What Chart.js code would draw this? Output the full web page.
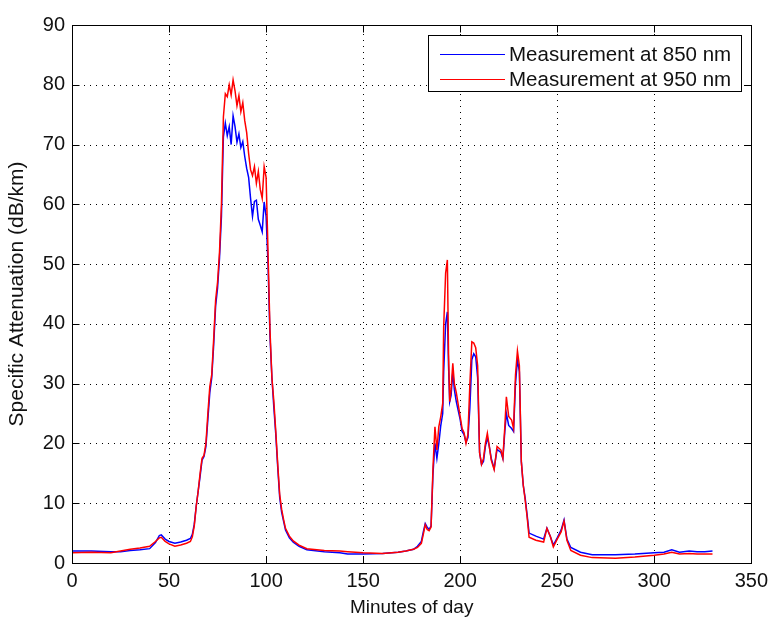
<!DOCTYPE html>
<html>
<head>
<meta charset="utf-8">
<script src="https://cdn.jsdelivr.net/npm/chart.js@4/dist/chart.umd.min.js"></script>
<style>
  html, body { margin: 0; padding: 0; background: #fff; }
  canvas { display: block; }
</style>
</head>
<body>
<canvas id="chart" width="774" height="617"></canvas>
<script>
// minutes of day and attenuation readings (dB/km)
const minutes = [0, 10, 20, 25, 30, 35, 40, 43, 45, 46, 48, 50, 53, 56, 59, 61,
  62, 63, 64, 65, 66, 67, 68, 69, 70, 71, 72, 73, 74, 75, 76, 77, 78, 79, 80,
  81, 82, 83, 84, 85, 86, 87, 88, 89, 90, 91, 92, 93, 94, 95, 96, 97, 98, 99, 100,
  101, 102, 103, 104, 105, 106, 107, 108, 109, 110, 112, 114, 117, 121, 130, 138,
  142, 150, 160, 168, 172, 176, 178, 180, 181, 182, 183, 184, 185,
  186, 187, 188, 189, 190, 191, 191.5, 192.5, 193.4, 194, 194.6, 195.3, 196.2, 197,
  198, 199, 200, 201, 202, 203, 204, 205, 206, 207, 208, 209, 210, 211, 212, 213,
  214, 215, 216, 217.5, 219, 221, 222, 223, 223.8, 225, 226.5, 227.5, 228.5, 229.5,
  230.5, 231.5, 232.5, 233.5, 234.5, 235.5, 239, 243, 244.7, 246.5, 248, 250, 252,
  253.5, 255, 257, 262, 268, 280, 290, 300, 305, 309, 313, 318, 322, 326, 330];

const att850 = [2.0, 2.0, 1.9, 1.9, 2.1, 2.2, 2.4, 3.4, 4.6, 4.7, 4.0, 3.6, 3.3, 3.5, 3.8, 4.1,
  4.8, 6.5, 9.5, 12, 14.5, 17.2, 17.8, 19.5, 24, 28.5, 31, 36.5, 43, 46, 51, 58, 71.3, 73.6, 71.5,
  73, 70, 74.8, 73, 70.4, 71.8, 69.5, 70.5, 68, 66, 64.5, 61, 58, 60.5, 60.7, 57.5, 56.5, 55.4, 60.4, 58,
  50, 38, 31, 26, 21.5, 16, 11, 8.5, 7, 5.5, 4.2, 3.5, 2.8, 2.2, 1.9, 1.7,
  1.5, 1.5, 1.6, 1.8, 2.0, 2.3, 2.8, 3.6, 5.2, 6.6, 6.0, 5.6, 6.2,
  15, 20, 17.5, 20, 23, 25, 32, 40, 42, 33, 27, 28, 32, 29,
  27, 25.5, 24, 22, 21.5, 20.2, 21, 26, 34, 35, 34.5, 31, 18.5, 16.5, 17, 19.5,
  21, 19.5, 17.5, 15.8, 19, 18.5, 17.5, 22, 25, 23, 22.5, 22, 30, 34,
  32, 17, 13, 10.8, 8, 5, 4.5, 4.0, 5.8, 4.4, 3, 4.2, 5.5,
  7.2, 4, 2.6, 1.8, 1.4, 1.4, 1.5, 1.7, 1.8, 2.2, 1.8, 2.0, 1.9, 1.9, 2.0];

const att950 = [1.7, 1.8, 1.7, 2.0, 2.3, 2.5, 2.8, 3.6, 4.2, 4.3, 3.6, 3.2, 2.8, 3.0, 3.3, 3.6,
  4.4, 6.2, 9.5, 12, 15, 17.5, 18, 20, 25, 29.5, 31.5, 37.5, 44, 47, 52, 60, 74.6, 78.5, 78,
  80, 78.3, 80.8, 79, 76.5, 78.2, 75.5, 77, 74, 72, 68.5, 65.8, 64.8, 66.3, 63.5, 65.5, 62.5, 61, 66.3, 64.5,
  52, 39, 31, 27, 22, 16.5, 11.5, 9, 7.3, 5.8, 4.5, 3.7, 3.0, 2.4, 2.1, 2.0,
  1.9, 1.7, 1.6, 1.8, 2.0, 2.3, 2.6, 3.3, 4.8, 6.4, 5.6, 5.4, 6.0,
  16, 22.8, 18.9, 22.8, 24.5, 26.7, 39.5, 48.5, 50.7, 35, 27, 29, 33.4, 30,
  28.5, 26.5, 24.5, 22.5, 21.8, 20, 21.5, 30, 37, 36.8, 36, 33, 18.4, 16.5, 17.5, 20,
  21.7, 19.5, 17.2, 15.6, 19.5, 18.9, 17.5, 22.8, 27.8, 24.5, 23.9, 22.5, 31.5, 35.5,
  33, 17, 13, 10.5, 7.7, 4.3, 3.8, 3.5, 5.8, 4.4, 2.7, 4.0, 5.2,
  7.0, 3.8, 2.1, 1.3, 0.9, 0.8, 1.0, 1.3, 1.5, 1.8, 1.5, 1.6, 1.5, 1.5, 1.5];

const xTicks = [0, 50, 100, 150, 200, 250, 300, 350];
const yTicks = [0, 10, 20, 30, 40, 50, 60, 70, 80, 90];
const seriesLabels = ['Measurement at 850 nm', 'Measurement at 950 nm'];
const seriesColors = ['#0000ff', '#ff0000'];

const FONT = '"Liberation Sans", Arial, sans-serif';

const toPoints = vals => minutes.map((m, i) => ({ x: m, y: vals[i] }));

// matlab style frame: dotted grid, box, inward ticks on all four sides
const matlabAxes = {
  id: 'matlabAxes',
  beforeDatasetsDraw(chart) {
    const { ctx, chartArea: a, scales: { x, y } } = chart;
    ctx.save();
    ctx.strokeStyle = '#000';
    ctx.lineWidth = 1;
    ctx.setLineDash([1, 5]);
    xTicks.slice(1, -1).forEach(v => {
      const px = Math.round(x.getPixelForValue(v)) + 0.5;
      ctx.beginPath(); ctx.moveTo(px, a.bottom); ctx.lineTo(px, a.top); ctx.stroke();
    });
    yTicks.slice(1, -1).forEach(v => {
      const py = Math.round(y.getPixelForValue(v)) + 0.5;
      ctx.beginPath(); ctx.moveTo(a.left, py); ctx.lineTo(a.right, py); ctx.stroke();
    });
    ctx.restore();
  },
  afterDatasetsDraw(chart) {
    const { ctx, chartArea: a, scales: { x, y } } = chart;
    const L = Math.round(a.left) + 0.5, R = Math.round(a.right) + 0.5;
    const T = Math.round(a.top) + 0.5, B = Math.round(a.bottom) + 0.5;
    ctx.save();
    ctx.strokeStyle = '#000';
    ctx.lineWidth = 1;
    ctx.strokeRect(L, T, R - L, B - T);
    const tl = 7;
    ctx.beginPath();
    xTicks.forEach(v => {
      const px = Math.round(x.getPixelForValue(v)) + 0.5;
      ctx.moveTo(px, B); ctx.lineTo(px, B - tl);
      ctx.moveTo(px, T); ctx.lineTo(px, T + tl);
    });
    yTicks.forEach(v => {
      const py = Math.round(y.getPixelForValue(v)) + 0.5;
      ctx.moveTo(L, py); ctx.lineTo(L + tl, py);
      ctx.moveTo(R, py); ctx.lineTo(R - tl, py);
    });
    ctx.stroke();
    ctx.restore();
  },
  afterDraw(chart) {
    // legend box, top right
    const { ctx } = chart;
    const bx = 428.5, by = 35.5, bw = 313, bh = 56;
    ctx.save();
    ctx.fillStyle = '#fff';
    ctx.fillRect(bx, by, bw, bh);
    ctx.strokeStyle = '#000';
    ctx.lineWidth = 1;
    ctx.strokeRect(bx, by, bw, bh);
    ctx.font = '20.5px ' + FONT;
    ctx.textBaseline = 'middle';
    chart.data.datasets.slice().sort((p, q) => seriesLabels.indexOf(p.label) - seriesLabels.indexOf(q.label))
      .forEach((ds, i) => {
        const ly = by + 19 + i * 25;
        ctx.strokeStyle = ds.borderColor;
        ctx.lineWidth = 1.2;
        ctx.beginPath(); ctx.moveTo(440, ly); ctx.lineTo(505, ly); ctx.stroke();
        ctx.fillStyle = '#111';
        ctx.fillText(ds.label, 509, ly + 1);
      });
    ctx.restore();
  }
};

new Chart(document.getElementById('chart'), {
  type: 'line',
  data: {
    datasets: [
      // red listed first so it is painted on top of the blue
      { label: seriesLabels[1], data: toPoints(att950), borderColor: seriesColors[1] },
      { label: seriesLabels[0], data: toPoints(att850), borderColor: seriesColors[0] }
    ]
  },
  options: {
    responsive: false,
    animation: false,
    devicePixelRatio: 1,
    layout: { padding: { top: 25, right: 16, left: 0, bottom: 0 } },
    elements: {
      line: { borderWidth: 1.5, tension: 0, fill: false },
      point: { radius: 0, hoverRadius: 0 }
    },
    plugins: { legend: { display: false }, tooltip: { enabled: false } },
    scales: {
      x: {
        type: 'linear', min: 0, max: 350,
        afterBuildTicks: s => { s.ticks = xTicks.map(v => ({ value: v })); },
        afterFit: s => { s.height = 54; },
        grid: { display: false, drawTicks: false },
        border: { display: false },
        ticks: { color: '#111', padding: 6, font: { family: FONT, size: 20 }, maxRotation: 0 },
        title: { display: true, text: 'Minutes of day', color: '#111',
                 font: { family: FONT, size: 19, lineHeight: 1 }, padding: { top: 0, bottom: 0 } }
      },
      y: {
        min: 0, max: 90,
        afterBuildTicks: s => { s.ticks = yTicks.map(v => ({ value: v })); },
        afterFit: s => { s.width = 72; },
        grid: { display: false, drawTicks: false },
        border: { display: false },
        ticks: { color: '#111', padding: 7, font: { family: FONT, size: 20 } },
        title: { display: true, text: 'Specific Attenuation (dB/km)', color: '#111',
                 font: { family: FONT, size: 21, lineHeight: 1 }, padding: { top: 7, bottom: 0 } }
      }
    }
  },
  plugins: [matlabAxes]
});
</script>
</body>
</html>
